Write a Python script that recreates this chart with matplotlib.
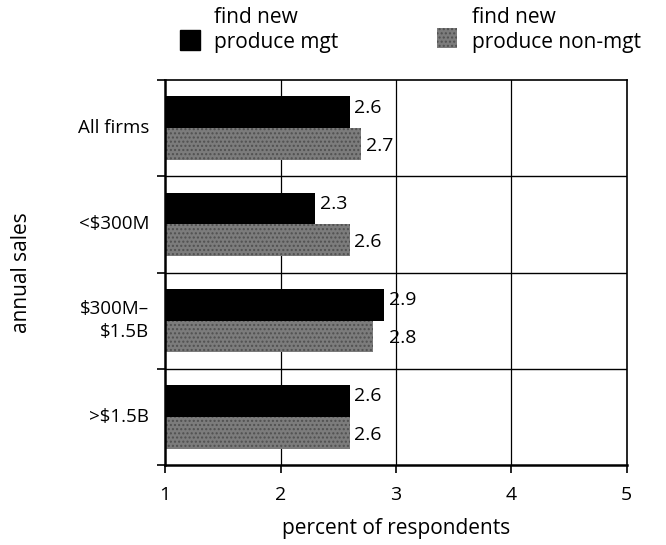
import numpy as np
import matplotlib.pyplot as plt

plt.rcParams['font.family'] = ['Open Sans', 'DejaVu Sans']

categories = ['All firms', '<$300M', '$300M–\n$1.5B', '>$1.5B']
mgt = [2.6, 2.3, 2.9, 2.6]
non_mgt = [2.7, 2.6, 2.8, 2.6]
series_names = ['find new\nproduce mgt', 'find new\nproduce non-mgt']

fig = plt.figure(figsize=(6.66, 5.45), dpi=100)
ax = fig.add_axes([0.248, 0.147, 0.693, 0.706])

y = np.arange(len(categories)) + 0.5
h = 0.33
grey = '#7c7c7c'

ax.barh(y - h / 2, np.array(mgt) - 1, left=1, height=h, color='black')
ax.barh(y + h / 2, np.array(non_mgt) - 1, left=1, height=h, color=grey,
        hatch='....', edgecolor='#505050', linewidth=0)

# value labels
for i in range(len(categories)):
    ax.text(mgt[i] + 0.04, y[i] - h / 2 - 0.05, f'{mgt[i]:.1f}', va='center', fontsize=14)
    ax.text(max(mgt[i], non_mgt[i]) + 0.04, y[i] + h / 2 + 0.02, f'{non_mgt[i]:.1f}',
            va='center', fontsize=14)

ax.set_xlim(1, 5)
ax.set_ylim(len(categories), 0)
ax.set_xticks([1, 2, 3, 4, 5])
ax.set_yticks(range(len(categories) + 1))
ax.set_yticklabels([])
for yy, lab in zip(y, categories):
    ax.text(-0.035, 1 - yy / len(categories), lab, transform=ax.transAxes,
            ha='right', va='center', fontsize=13.5, linespacing=1.3)

for xv in [2, 3, 4]:
    ax.axvline(xv, color='black', lw=0.9, zorder=0)
for yv in [1, 2, 3]:
    ax.axhline(yv, color='black', lw=1.0, zorder=0)

for s in ['left', 'bottom']:
    ax.spines[s].set_linewidth(1.8)
for s in ['top', 'right']:
    ax.spines[s].set_linewidth(1.2)
ax.tick_params(axis='both', direction='out', length=6, width=1.2, labelsize=14)
ax.tick_params(axis='x', pad=9)

ax.set_xlabel('percent of respondents', fontsize=15, labelpad=10)
fig.text(0.032, 0.5, 'annual sales', rotation=90, va='center', ha='center', fontsize=15)

# legend
fig.patches.append(plt.Rectangle((0.27, 0.908), 0.03, 0.037, transform=fig.transFigure,
                                 color='black'))
fig.text(0.322, 0.945, series_names[0], fontsize=15, va='center', linespacing=1.25)
fig.patches.append(plt.Rectangle((0.656, 0.912), 0.03, 0.037, transform=fig.transFigure,
                                 facecolor=grey, hatch='....', edgecolor='#505050', lw=0))
fig.text(0.708, 0.945, series_names[1], fontsize=15, va='center', linespacing=1.25)

plt.savefig('out.png', dpi=100)
